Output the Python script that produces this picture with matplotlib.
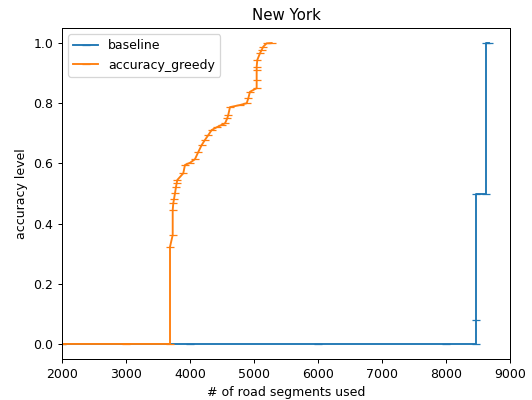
import numpy as np
import matplotlib.pyplot as plt

# segments used vs accuracy
baseline_x = [0, 2000, 4000, 6000, 8000, 8464, 8464, 8464, 8620, 8620, 8667]
baseline_y = [0.0, 0.0, 0.0, 0.0, 0.0, 0.0, 0.08, 0.5, 0.5, 1.0, 1.0]

greedy_x = [0, 1000, 2000, 3000, 3688, 3688, 3730, 3730, 3739, 3750, 3766, 3781,
            3792, 3802, 3895, 3922, 4000, 4078, 4130, 4183, 4234, 4286, 4339,
            4417, 4495, 4547, 4583, 4598, 4625, 4781, 4886, 4911, 4937, 5042,
            5042, 5042, 5042, 5052, 5094, 5120, 5145, 5198, 5277]
greedy_y = [0.0, 0.0, 0.0, 0.0, 0.0, 0.323, 0.362, 0.445, 0.467, 0.481, 0.501,
            0.521, 0.534, 0.545, 0.567, 0.595, 0.602, 0.614, 0.638, 0.661, 0.678,
            0.694, 0.711, 0.720, 0.728, 0.733, 0.750, 0.761, 0.787, 0.794, 0.800,
            0.816, 0.838, 0.850, 0.877, 0.910, 0.921, 0.944, 0.966, 0.977, 0.988,
            0.999, 1.0]

fig = plt.figure(figsize=(532 / 90, 400 / 90), dpi=90)
ax = fig.add_subplot(111)
fig.subplots_adjust(left=0.1165, right=0.9586, bottom=0.1025, top=0.93)

ax.plot(baseline_x, baseline_y, marker='_', label='baseline')
ax.plot(greedy_x, greedy_y, marker='_', label='accuracy_greedy')

ax.set_xlim(2000, 9000)
ax.set_title('New York')
ax.set_xlabel('# of road segments used')
ax.set_ylabel('accuracy level')
ax.legend(loc='upper left')

fig.savefig('out.png', dpi=90)
